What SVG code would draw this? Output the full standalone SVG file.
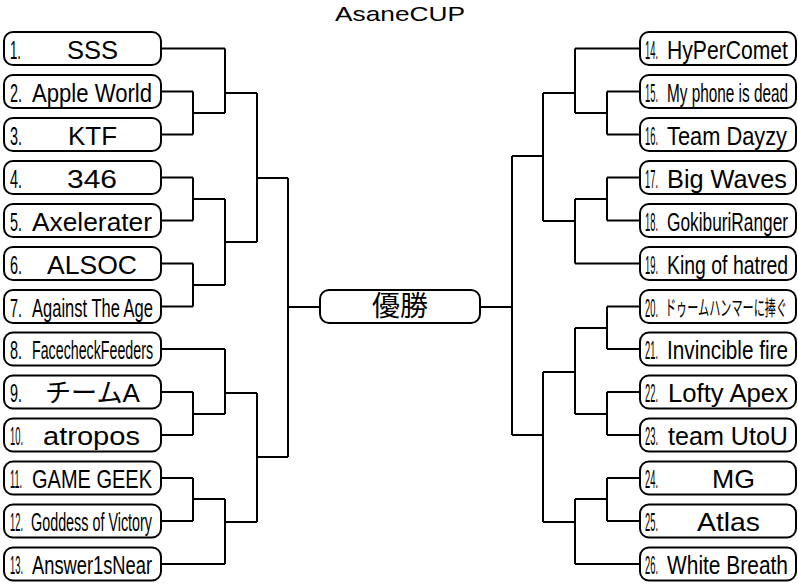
<svg xmlns="http://www.w3.org/2000/svg" width="798" height="585" viewBox="0 0 798 585">
<style>
.box{fill:#fff;stroke:#000;stroke-width:2}
.t{font-family:"Liberation Sans","Noto Sans CJK JP",sans-serif;fill:#000}
.c{fill:none;stroke:#000;stroke-width:2}
</style>
<rect width="798" height="585" fill="#fff"/>
<text x="335" y="21" class="t" font-size="21" textLength="130" lengthAdjust="spacingAndGlyphs">AsaneCUP</text>
<g id="connectors" class="c">
<path d="M161 48.5H225M161 91.5H193M161 134.5H193M193 91.5V134.5M193 113H225M225 48.5V113M225 93H257"/>
<path d="M161 177.5H193M161 220.5H193M193 177.5V220.5M193 199H225M161 263.5H193M161 306.5H193M193 263.5V306.5M193 285H225M225 199V285M225 242H257M257 93V242M257 178H288"/>
<path d="M161 349H225M161 392H193M161 435H193M193 392V435M193 414H225M225 349V414M225 393H257"/>
<path d="M161 478H193M161 521H193M193 478V521M193 499H225M161 564H225M225 499V564M225 522H257M257 393V522M257 457H288M288 178V457M288 307H320"/>
<path d="M640 48.5H575M640 91.5H607M640 134.5H607M607 91.5V134.5M607 113H575M575 48.5V113M575 93H543"/>
<path d="M640 177.5H607M640 220.5H607M607 177.5V220.5M607 199H575M640 263.5H575M575 199V263.5M575 221H543M543 93V221M543 156H512"/>
<path d="M640 306.5H607M640 349H607M607 306.5V349M607 328H575M640 392H607M640 435H607M607 392V435M607 414H575M575 328V414M575 372H543"/>
<path d="M640 478H607M640 521H607M607 478V521M607 499H575M640 564H575M575 499V564M575 522H543M543 372V522M543 435H512M512 156V435M512 307H480"/>
</g>
<g id="final"><rect class="box" x="320" y="290" width="160" height="33" rx="9"/><text x="372" y="316" class="t" font-size="28" textLength="56" lengthAdjust="spacingAndGlyphs">優勝</text></g>
<g id="team1"><rect class="box" x="4" y="32" width="157" height="33" rx="9"/><text transform="translate(10 58.5) scale(1 2)" class="t" font-size="13" textLength="11" lengthAdjust="spacingAndGlyphs">1.</text><text transform="translate(67 58.5) scale(1 1.04)" class="t" font-size="25" textLength="51" lengthAdjust="spacingAndGlyphs">SSS</text></g>
<g id="team2"><rect class="box" x="4" y="75" width="157" height="33" rx="9"/><text transform="translate(10 101.5) scale(1 1.857)" class="t" font-size="14" textLength="12" lengthAdjust="spacingAndGlyphs">2.</text><text transform="translate(32 101.5) scale(1 1.1818)" class="t" font-size="22" textLength="120" lengthAdjust="spacingAndGlyphs">Apple World</text></g>
<g id="team3"><rect class="box" x="4" y="118" width="157" height="33" rx="9"/><text transform="translate(10 144.5) scale(1 1.857)" class="t" font-size="14" textLength="12" lengthAdjust="spacingAndGlyphs">3.</text><text transform="translate(68 144.5) scale(1 1.04)" class="t" font-size="25" textLength="49" lengthAdjust="spacingAndGlyphs">KTF</text></g>
<g id="team4"><rect class="box" x="4" y="161" width="157" height="33" rx="9"/><text transform="translate(10 187.5) scale(1 1.857)" class="t" font-size="14" textLength="12" lengthAdjust="spacingAndGlyphs">4.</text><text transform="translate(67 187.5)" class="t" font-size="26" textLength="50" lengthAdjust="spacingAndGlyphs">346</text></g>
<g id="team5"><rect class="box" x="4" y="204" width="157" height="33" rx="9"/><text transform="translate(10 230.5) scale(1 1.857)" class="t" font-size="14" textLength="12" lengthAdjust="spacingAndGlyphs">5.</text><text transform="translate(32 230.5)" class="t" font-size="26" textLength="120" lengthAdjust="spacingAndGlyphs">Axelerater</text></g>
<g id="team6"><rect class="box" x="4" y="247" width="157" height="33" rx="9"/><text transform="translate(10 273.5) scale(1 1.857)" class="t" font-size="14" textLength="12" lengthAdjust="spacingAndGlyphs">6.</text><text transform="translate(47 273.5)" class="t" font-size="26" textLength="90" lengthAdjust="spacingAndGlyphs">ALSOC</text></g>
<g id="team7"><rect class="box" x="4" y="290" width="157" height="33" rx="9"/><text transform="translate(10 316.5) scale(1 1.857)" class="t" font-size="14" textLength="12" lengthAdjust="spacingAndGlyphs">7.</text><text transform="translate(32 316.5) scale(1 1.625)" class="t" font-size="16" textLength="121" lengthAdjust="spacingAndGlyphs">Against The Age</text></g>
<g id="team8"><rect class="box" x="4" y="332.5" width="157" height="33" rx="9"/><text transform="translate(10 359) scale(1 1.857)" class="t" font-size="14" textLength="12" lengthAdjust="spacingAndGlyphs">8.</text><text transform="translate(32 359) scale(1 1.857)" class="t" font-size="14" textLength="121" lengthAdjust="spacingAndGlyphs">FacecheckFeeders</text></g>
<g id="team9"><rect class="box" x="4" y="375.5" width="157" height="33" rx="9"/><text transform="translate(10 402) scale(1 1.857)" class="t" font-size="14" textLength="12" lengthAdjust="spacingAndGlyphs">9.</text><text transform="translate(45 402) scale(1 1.04)" class="t" font-size="25" textLength="95" lengthAdjust="spacingAndGlyphs">チームA</text></g>
<g id="team10"><rect class="box" x="4" y="418.5" width="157" height="33" rx="9"/><text transform="translate(10 445) scale(1 2.889)" class="t" font-size="9" textLength="13" lengthAdjust="spacingAndGlyphs">10.</text><text transform="translate(43 445)" class="t" font-size="26" textLength="97" lengthAdjust="spacingAndGlyphs">atropos</text></g>
<g id="team11"><rect class="box" x="4" y="461.5" width="157" height="33" rx="9"/><text transform="translate(10 488) scale(1 2.889)" class="t" font-size="9" textLength="12" lengthAdjust="spacingAndGlyphs">11.</text><text transform="translate(32 488) scale(1 1.368)" class="t" font-size="19" textLength="120" lengthAdjust="spacingAndGlyphs">GAME GEEK</text></g>
<g id="team12"><rect class="box" x="4" y="504.5" width="157" height="33" rx="9"/><text transform="translate(10 531) scale(1 2.889)" class="t" font-size="9" textLength="13" lengthAdjust="spacingAndGlyphs">12.</text><text transform="translate(31 531) scale(1 1.857)" class="t" font-size="14" textLength="121" lengthAdjust="spacingAndGlyphs">Goddess of Victory</text></g>
<g id="team13"><rect class="box" x="4" y="547.5" width="157" height="33" rx="9"/><text transform="translate(10 574) scale(1 2.889)" class="t" font-size="9" textLength="13" lengthAdjust="spacingAndGlyphs">13.</text><text transform="translate(32 574) scale(1 1.444)" class="t" font-size="18" textLength="120" lengthAdjust="spacingAndGlyphs">Answer1sNear</text></g>
<g id="team14"><rect class="box" x="640" y="32" width="156" height="33" rx="9"/><text transform="translate(645 58.5) scale(1 2.889)" class="t" font-size="9" textLength="13" lengthAdjust="spacingAndGlyphs">14.</text><text transform="translate(667 58.5) scale(1 1.238)" class="t" font-size="21" textLength="121" lengthAdjust="spacingAndGlyphs">HyPerComet</text></g>
<g id="team15"><rect class="box" x="640" y="75" width="156" height="33" rx="9"/><text transform="translate(645 101.5) scale(1 2.889)" class="t" font-size="9" textLength="13" lengthAdjust="spacingAndGlyphs">15.</text><text transform="translate(667 101.5) scale(1 1.733)" class="t" font-size="15" textLength="121" lengthAdjust="spacingAndGlyphs">My phone is dead</text></g>
<g id="team16"><rect class="box" x="640" y="118" width="156" height="33" rx="9"/><text transform="translate(645 144.5) scale(1 2.889)" class="t" font-size="9" textLength="13" lengthAdjust="spacingAndGlyphs">16.</text><text transform="translate(667 144.5) scale(1 1.238)" class="t" font-size="21" textLength="120" lengthAdjust="spacingAndGlyphs">Team Dayzy</text></g>
<g id="team17"><rect class="box" x="640" y="161" width="156" height="33" rx="9"/><text transform="translate(645 187.5) scale(1 2.889)" class="t" font-size="9" textLength="13" lengthAdjust="spacingAndGlyphs">17.</text><text transform="translate(667 187.5) scale(1 1.04)" class="t" font-size="25" textLength="120" lengthAdjust="spacingAndGlyphs">Big Waves</text></g>
<g id="team18"><rect class="box" x="640" y="204" width="156" height="33" rx="9"/><text transform="translate(645 230.5) scale(1 2.889)" class="t" font-size="9" textLength="13" lengthAdjust="spacingAndGlyphs">18.</text><text transform="translate(667 230.5) scale(1 1.529)" class="t" font-size="17" textLength="121" lengthAdjust="spacingAndGlyphs">GokiburiRanger</text></g>
<g id="team19"><rect class="box" x="640" y="247" width="156" height="33" rx="9"/><text transform="translate(645 273.5) scale(1 2.889)" class="t" font-size="9" textLength="13" lengthAdjust="spacingAndGlyphs">19.</text><text transform="translate(667 273.5) scale(1 1.368)" class="t" font-size="19" textLength="121" lengthAdjust="spacingAndGlyphs">King of hatred</text></g>
<g id="team20"><rect class="box" x="640" y="290" width="156" height="33" rx="9"/><text transform="translate(645 316.5) scale(1 2.889)" class="t" font-size="9" textLength="13" lengthAdjust="spacingAndGlyphs">20.</text><text transform="translate(665 315) scale(1 1.909)" class="t" font-size="11" textLength="122" lengthAdjust="spacingAndGlyphs">ドゥームハンマーに捧ぐ</text></g>
<g id="team21"><rect class="box" x="640" y="332.5" width="156" height="33" rx="9"/><text transform="translate(645 359) scale(1 2.889)" class="t" font-size="9" textLength="13" lengthAdjust="spacingAndGlyphs">21.</text><text transform="translate(667 359) scale(1 1.3)" class="t" font-size="20" textLength="121" lengthAdjust="spacingAndGlyphs">Invincible fire</text></g>
<g id="team22"><rect class="box" x="640" y="375.5" width="156" height="33" rx="9"/><text transform="translate(645 402) scale(1 2.889)" class="t" font-size="9" textLength="13" lengthAdjust="spacingAndGlyphs">22.</text><text transform="translate(668 402) scale(1 1.04)" class="t" font-size="25" textLength="120" lengthAdjust="spacingAndGlyphs">Lofty Apex</text></g>
<g id="team23"><rect class="box" x="640" y="418.5" width="156" height="33" rx="9"/><text transform="translate(645 445) scale(1 2.889)" class="t" font-size="9" textLength="13" lengthAdjust="spacingAndGlyphs">23.</text><text transform="translate(668 445) scale(1 1.04)" class="t" font-size="25" textLength="120" lengthAdjust="spacingAndGlyphs">team UtoU</text></g>
<g id="team24"><rect class="box" x="640" y="461.5" width="156" height="33" rx="9"/><text transform="translate(645 488) scale(1 2.889)" class="t" font-size="9" textLength="13" lengthAdjust="spacingAndGlyphs">24.</text><text transform="translate(712 488)" class="t" font-size="26" textLength="43" lengthAdjust="spacingAndGlyphs">MG</text></g>
<g id="team25"><rect class="box" x="640" y="504.5" width="156" height="33" rx="9"/><text transform="translate(645 531) scale(1 2.889)" class="t" font-size="9" textLength="13" lengthAdjust="spacingAndGlyphs">25.</text><text transform="translate(697 531)" class="t" font-size="26" textLength="63" lengthAdjust="spacingAndGlyphs">Atlas</text></g>
<g id="team26"><rect class="box" x="640" y="547.5" width="156" height="33" rx="9"/><text transform="translate(645 574) scale(1 2.889)" class="t" font-size="9" textLength="13" lengthAdjust="spacingAndGlyphs">26.</text><text transform="translate(667 574) scale(1 1.3)" class="t" font-size="20" textLength="121" lengthAdjust="spacingAndGlyphs">White Breath</text></g>
</svg>
